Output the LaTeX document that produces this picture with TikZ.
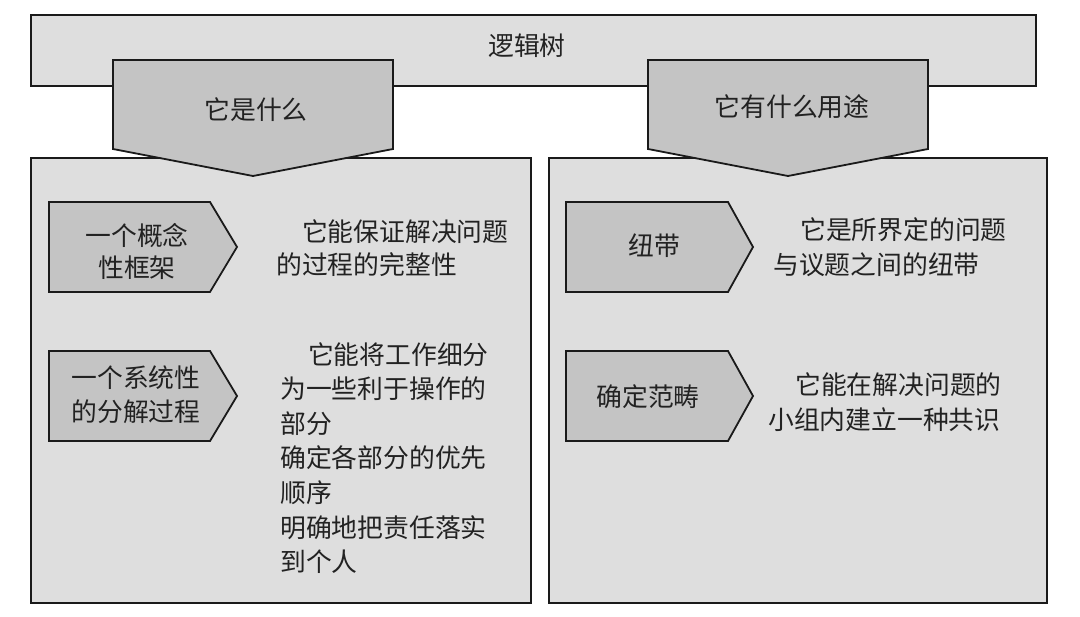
\documentclass[tikz,border=0pt]{standalone}
\usepackage{fontspec}
\newfontfamily\cjk{Noto Sans CJK SC}
\definecolor{panelc}{HTML}{DEDEDE}
\definecolor{tabc}{HTML}{C4C4C4}
\definecolor{linec}{HTML}{1A1A1A}
\definecolor{txtc}{HTML}{222222}
\begin{document}
\begin{tikzpicture}[x=1pt,y=-1pt,
  panel/.style={draw=linec, line width=1.8pt, fill=panelc},
  tab/.style={draw=linec, line width=1.8pt, fill=tabc, line join=miter},
  lbl/.style={font=\cjk\fontsize{25.8}{33}\selectfont, text=txtc, inner sep=0pt},
  body/.style={lbl, align=left, anchor=north west},
]
\useasboundingbox (0,0) rectangle (1080,617);
\fill[white] (0,0) rectangle (1080,617);
% frames
\draw[panel] (31,15) rectangle (1036,86);
\draw[panel] (31,158) rectangle (531,603);
\draw[panel] (549,158) rectangle (1047,603);
% big tabs
\draw[tab] (113,60) -- (393,60) -- (393,149) -- (253,176) -- (113,149) -- cycle;
\draw[tab] (648,60) -- (928,60) -- (928,149) -- (788,176) -- (648,149) -- cycle;
% small tabs
\draw[tab] (49,202) -- (210,202) -- (237,247) -- (210,292) -- (49,292) -- cycle;
\draw[tab] (49,351) -- (210,351) -- (237,396) -- (210,441) -- (49,441) -- cycle;
\draw[tab] (566,202) -- (728,202) -- (753,247) -- (728,292) -- (566,292) -- cycle;
\draw[tab] (566,351) -- (728,351) -- (753,396) -- (728,441) -- (566,441) -- cycle;
% headings
\node[lbl] (title) at (527,46) {逻辑树};
\node[lbl] (whatis) at (256,110) {它是什么};
\node[lbl] (use) at (792,107) {它有什么用途};
% tab labels
\node[lbl, align=center, font=\cjk\fontsize{25.8}{32}\selectfont] (k1) at (137,251) {一个概念\\性框架};
\node[lbl, align=center, font=\cjk\fontsize{25.8}{34}\selectfont] (k2) at (136,395) {一个系统性\\的分解过程};
\node[lbl] (r1) at (654,246) {纽带};
\node[lbl] (r2) at (648,397) {确定范畴};
% bodies
\node[body, font=\cjk\fontsize{25.8}{33}\selectfont] (b1) at (276,219)
  {\hspace*{1em}它能保证解决问题\\的过程的完整性};
\node[body, font=\cjk\fontsize{25.8}{34.6}\selectfont] (b2) at (280,342)
  {\hspace*{1.08em}它能将工作细分\\为一些利于操作的\\部分\\确定各部分的优先\\顺序\\明确地把责任落实\\到个人};
\node[body, font=\cjk\fontsize{25.8}{35}\selectfont] (b3) at (773,217)
  {\hspace*{1.05em}它是所界定的问题\\与议题之间的纽带};
\node[body, font=\cjk\fontsize{25.8}{35}\selectfont] (b4) at (768,372)
  {\hspace*{1.05em}它能在解决问题的\\小组内建立一种共识};
\end{tikzpicture}
\end{document}
